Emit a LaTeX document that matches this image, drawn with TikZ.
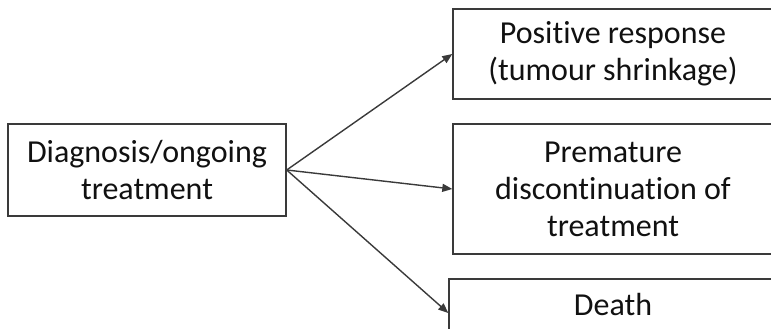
\documentclass[tikz,border=0pt]{standalone}
\usepackage{fontspec}
\setmainfont[Ligatures=NoCommon]{Carlito}
\usetikzlibrary{arrows.meta}
\definecolor{boxgray}{HTML}{3A3A3A}
\definecolor{ink}{HTML}{111111}
\begin{document}
\begin{tikzpicture}[x=1pt,y=1pt,
  box/.style={draw=boxgray, line width=1.4pt, fill=white, align=center,
    inner sep=0pt, text=ink, font=\fontsize{32}{37}\selectfont},
  link/.style={draw=boxgray, line width=1.4pt,
    -{Triangle[length=10pt,width=8pt]}}]
\useasboundingbox (0,0) rectangle (771,329);
\clip (0,0) rectangle (771,329);

% starting state
\node[box, minimum width=278pt, minimum height=92pt] (src) at (147,159)
  {Diagnosis/ongoing\\treatment};

% outcomes (their right sides run past the frame)
\node[box, minimum width=320pt, minimum height=90pt] (pos) at (613,275)
  {Positive response\\(tumour shrinkage)};
\node[box, minimum width=320pt, minimum height=130pt] (prem) at (613,140)
  {Premature\\discontinuation of\\treatment};
\node[box, minimum width=328pt, minimum height=52pt] (death) at (613,24)
  {Death};

% transitions
\draw[link] (src.east) -- (pos.west);
\draw[link] (src.east) -- (prem.west);
\draw[link] (src.east) -- ([yshift=-8pt]death.west);
\end{tikzpicture}
\end{document}
